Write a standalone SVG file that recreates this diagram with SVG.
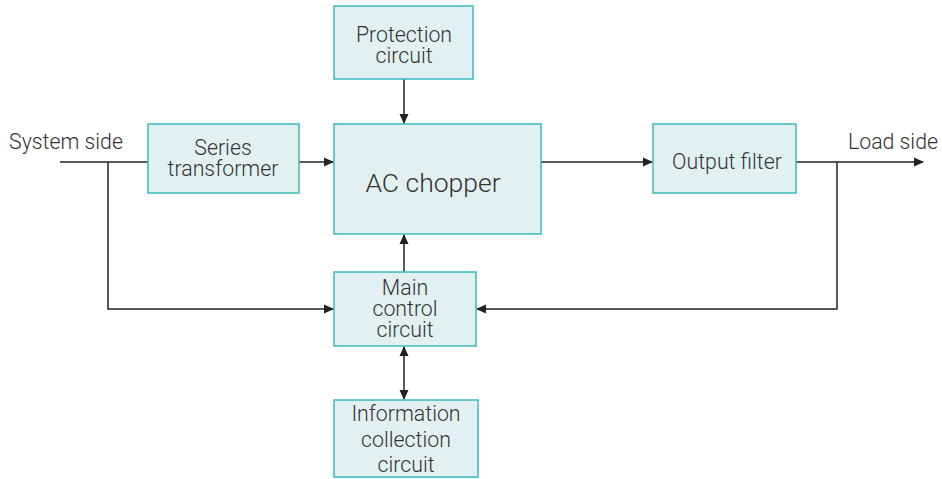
<svg xmlns="http://www.w3.org/2000/svg" width="942" height="479" viewBox="0 0 942 479">
<style>
.box{fill:#e1f1f1;stroke:#3ab9bd;stroke-width:1.5}
text{font-family:Roboto,"Liberation Sans",sans-serif;font-weight:300;font-size:21.3px;fill:#333;text-anchor:middle}
.ln{fill:none;stroke:#222;stroke-width:1.5}
</style>
<defs>
<marker id="ah" markerWidth="10" markerHeight="10" refX="9" refY="5" orient="auto-start-reverse" markerUnits="userSpaceOnUse">
<path d="M0,0.5 L10,5 L0,9.5 Z" fill="#222"/>
</marker>
</defs>
<rect width="942" height="479" fill="#fff"/>
<g id="connectors">
<path class="ln" d="M60,162 H148"/>
<path class="ln" d="M108,162 V309 H333" marker-end="url(#ah)"/>
<path class="ln" d="M299,162 H333" marker-end="url(#ah)"/>
<path class="ln" d="M404,79 V123" marker-end="url(#ah)"/>
<path class="ln" d="M541,162 H652" marker-end="url(#ah)"/>
<path class="ln" d="M796,162 H923" marker-end="url(#ah)"/>
<path class="ln" d="M837,162 V309 H477" marker-end="url(#ah)"/>
<path class="ln" d="M404,272 V235" marker-end="url(#ah)"/>
<path class="ln" d="M404,347 V399" marker-start="url(#ah)" marker-end="url(#ah)"/>
</g>
<g id="labels">
<text x="66" y="149">System side</text>
<text x="893" y="149">Load side</text>
</g>
<g id="protection">
<rect class="box" x="334" y="6" width="139" height="73"/>
<text x="404" y="42">Protection</text>
<text x="404" y="63">circuit</text>
</g>
<g id="series">
<rect class="box" x="148" y="124" width="151" height="69"/>
<text x="223" y="155">Series</text>
<text x="223" y="176">transformer</text>
</g>
<g id="acchopper">
<rect class="box" x="334" y="124" width="207" height="110"/>
<text x="433" y="192" style="font-size:26.5px">AC chopper</text>
</g>
<g id="outputfilter">
<rect class="box" x="653" y="124" width="143" height="69"/>
<text x="727" y="169">Output filter</text>
</g>
<g id="maincontrol">
<rect class="box" x="334" y="272" width="142" height="74"/>
<text x="405" y="295">Main</text>
<text x="405" y="316">control</text>
<text x="405" y="337">circuit</text>
</g>
<g id="information">
<rect class="box" x="334" y="400" width="144" height="77"/>
<text x="406" y="421">Information</text>
<text x="406" y="447">collection</text>
<text x="406" y="472">circuit</text>
</g>
</svg>
